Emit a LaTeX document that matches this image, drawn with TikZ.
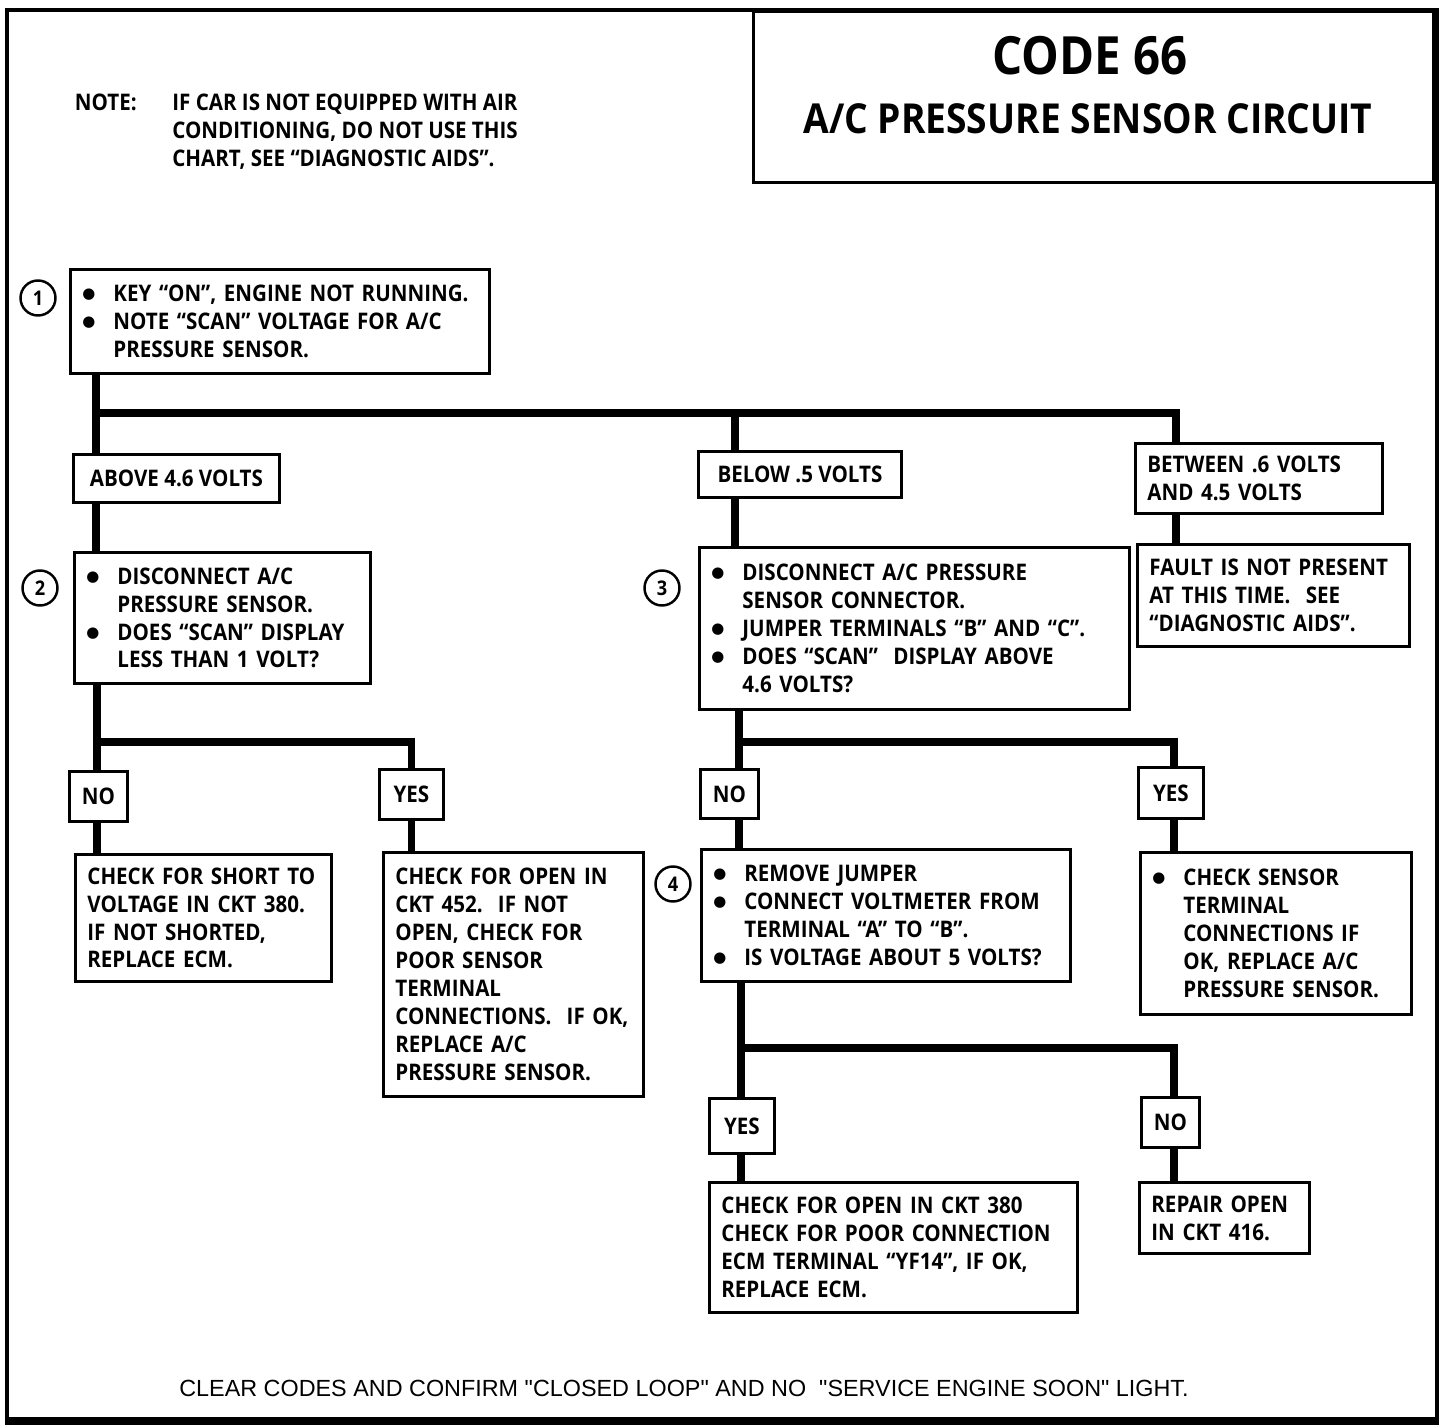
\documentclass[tikz,border=0pt]{standalone}
\usepackage{fontspec}
\setmainfont{Open Sans}[FakeStretch=0.9]
\newfontfamily\footfont{Liberation Sans}
\newfontfamily\dotfont{DejaVu Sans}
\usetikzlibrary{positioning}
\newcommand{\bitem}{\makebox[0.62cm][l]{\raisebox{1.6pt}{\dotfont\fontsize{8.5}{8.5}\selectfont ●}}}
\newcommand{\bgap}{\hspace*{0.62cm}}
\tikzset{
  every picture/.style={font=\bfseries\fontsize{13}{15.9}\selectfont},
  box/.style 2 args={draw, line width=1.6pt, anchor=north west, align=left, inner xsep=0.24cm, inner ysep=0pt, text width=#1, minimum height=#2},
  tag/.style 2 args={draw, line width=1.6pt, anchor=north west, inner sep=0pt, minimum width=#1, minimum height=#2},
  wire/.style={line width=4.2pt},
  num/.style={circle, draw, line width=1.4pt, minimum size=0.70cm, inner sep=0pt, font=\bfseries\fontsize{11.5}{11.5}\selectfont},
}

\begin{document}
\begin{tikzpicture}
  \useasboundingbox (0,0) rectangle (29.12,-28.56);
  % frame and title
  \draw[line width=2.2pt] (0.14,-0.20) rectangle (28.74,-28.42);
  \draw[line width=5pt] (0.10,-28.42) -- (28.78,-28.42);
  \node[tag={13.60cm}{3.42cm}] (title) at (15.04,-0.20) {};
  \node[font=\bfseries\fontsize{30}{30}\selectfont] (code) at (21.80,-1.12) {CODE 66};
  \node[font=\bfseries\fontsize{23.5}{24}\selectfont] (circuit) at (21.76,-2.38) {A/C PRESSURE SENSOR CIRCUIT};
  \node[anchor=north west, align=left, inner sep=0pt] (note) at (3.44,-1.87) {IF CAR IS NOT EQUIPPED WITH AIR\\CONDITIONING, DO NOT USE THIS\\CHART, SEE “DIAGNOSTIC AIDS”.};
  \node[left=0.70cm of note.north west, anchor=north east, inner sep=0pt] (notehead) {NOTE:};
  % step numbers
  \foreach \k/\x/\y in {1/0.76/-5.96, 2/0.80/-11.76, 3/13.24/-11.76, 4/13.46/-17.68}
    \node[num] (c\k) at (\x,\y) {\k};
  % boxes
  \node[box={7.90cm}{2.08cm}] (s1) at (1.38,-5.36) {\bitem KEY “ON”, ENGINE NOT RUNNING.\\\bitem NOTE “SCAN” VOLTAGE FOR A/C\\\bgap PRESSURE SENSOR.};
  \node[tag={4.12cm}{0.96cm}] (above) at (1.44,-9.06) {ABOVE 4.6 VOLTS};
  \node[tag={4.06cm}{0.92cm}] (below) at (13.94,-9.00) {BELOW .5 VOLTS};
  \node[box={4.46cm}{1.40cm}] (between) at (22.68,-8.84) {BETWEEN .6 VOLTS\\AND 4.5 VOLTS};
  \node[box={5.44cm}{2.62cm}] (s2) at (1.46,-11.02) {\bitem DISCONNECT A/C\\\bgap PRESSURE SENSOR.\\\bitem DOES “SCAN” DISPLAY\\\bgap LESS THAN 1 VOLT?};
  \node[box={8.12cm}{3.24cm}] (s3) at (13.96,-10.92) {\bitem DISCONNECT A/C PRESSURE\\\bgap SENSOR CONNECTOR.\\\bitem JUMPER TERMINALS “B” AND “C”.\\\bitem DOES “SCAN”\ \ DISPLAY ABOVE\\\bgap 4.6 VOLTS?};
  \node[box={4.96cm}{2.04cm}] (fault) at (22.72,-10.86) {FAULT IS NOT PRESENT\\AT THIS TIME.\ \ SEE\\“DIAGNOSTIC AIDS”.};
  \node[tag={1.16cm}{1.00cm}] (no2) at (1.36,-15.40) {NO};
  \node[tag={1.28cm}{1.00cm}] (yes2) at (7.56,-15.36) {YES};
  \node[box={4.64cm}{2.54cm}] (short) at (1.48,-17.06) {CHECK FOR SHORT TO\\VOLTAGE IN CKT 380.\\IF NOT SHORTED,\\REPLACE ECM.};
  \node[box={4.72cm}{4.88cm}] (open452) at (7.64,-17.02) {CHECK FOR OPEN IN\\CKT 452.\ \ IF NOT\\OPEN, CHECK FOR\\POOR SENSOR\\TERMINAL\\CONNECTIONS.\ \ IF OK,\\REPLACE A/C\\PRESSURE SENSOR.};
  \node[tag={1.16cm}{0.98cm}] (no3) at (13.98,-15.36) {NO};
  \node[tag={1.30cm}{1.02cm}] (yes3) at (22.74,-15.32) {YES};
  \node[box={6.90cm}{2.64cm}] (s4) at (14.00,-16.96) {\bitem REMOVE JUMPER\\\bitem CONNECT VOLTMETER FROM\\\bgap TERMINAL “A” TO “B”.\\\bitem IS VOLTAGE ABOUT 5 VOLTS?};
  \node[box={4.94cm}{3.24cm}] (sensor) at (22.78,-17.02) {\bitem CHECK SENSOR\\\bgap TERMINAL\\\bgap CONNECTIONS IF\\\bgap OK, REPLACE A/C\\\bgap PRESSURE SENSOR.};
  \node[tag={1.30cm}{1.10cm}] (yes4) at (14.16,-21.94) {YES};
  \node[tag={1.16cm}{1.00cm}] (no4) at (22.80,-21.92) {NO};
  \node[box={6.88cm}{2.60cm}] (ecm) at (14.16,-23.62) {CHECK FOR OPEN IN CKT 380\\CHECK FOR POOR CONNECTION\\ECM TERMINAL “YF14”, IF OK,\\REPLACE ECM.};
  \node[box={2.92cm}{1.42cm}] (repair) at (22.76,-23.62) {REPAIR OPEN\\IN CKT 416.};
  \node[font=\footfont\fontsize{13.3}{16}\selectfont] (footer) at (13.68,-27.76) {CLEAR CODES AND CONFIRM "CLOSED LOOP" AND NO\ \ "SERVICE ENGINE SOON" LIGHT.};
  % connectors
  \coordinate (j1) at (1.92,-8.26); \coordinate (d1) at (14.70,-8.26); \coordinate (d2) at (23.52,-8.26);
  \coordinate (j2) at (1.94,-14.84); \coordinate (j3) at (14.78,-14.84); \coordinate (d3) at (23.48,-14.84);
  \coordinate (j4) at (14.82,-20.96); \coordinate (d4) at (23.48,-20.96);
  \draw[wire] (j1) -- (d2) -- (between.north -| d2);
  \draw[wire] (d1) -- (below.north -| d1);
  \draw[wire] (j2) -| (yes2.north);
  \draw[wire] (j3) -- (d3) -- (yes3.north -| d3);
  \draw[wire] (j4) -- (d4) -- (no4.north -| d4);
  \foreach \a/\b/\j in {s1/above/j1, above/s2/j1, below/s3/d1, between/fault/d2, s2/no2/j2, no2/short/j2, yes2/open452/yes2, s3/no3/j3, no3/s4/j3, yes3/sensor/d3, s4/yes4/j4, yes4/ecm/j4, no4/repair/d4}
    \draw[wire] (\a.south -| \j) -- (\b.north -| \j);
\end{tikzpicture}
\end{document}
